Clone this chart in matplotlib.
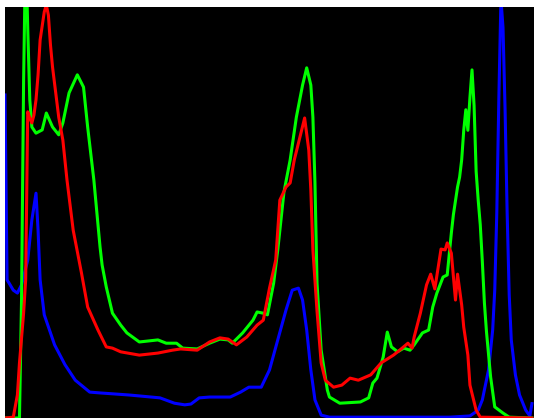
import numpy as np
import matplotlib
matplotlib.use("Agg")
import matplotlib.pyplot as plt

# colour histograms of an image (bins 0-255, % of plot height)
blue_bins = [0, 1, 2, 4, 6, 8, 11, 13, 15, 16, 17, 19, 24, 29, 34, 41, 46, 60, 75, 82,
             87, 90, 94, 99, 109, 114, 118, 124, 128, 132, 136, 139, 142, 144, 146, 148,
             150, 153, 157, 215, 225, 229, 231, 234, 236, 237, 238, 239, 240, 241, 242,
             243, 244, 245, 247, 249, 252, 254, 255]
blue_vals = [78.6, 33.6, 32.8, 31.1, 30.4, 32.4, 38.4, 48.2, 54.7, 45.7, 33.6, 25.1, 17.8,
             13.0, 9.2, 6.3, 6.1, 5.6, 4.9, 3.6, 3.2, 3.4, 4.9, 5.1, 5.1, 6.3, 7.5, 7.5,
             11.7, 19.0, 26.3, 31.1, 31.6, 28.7, 21.4, 11.7, 4.4, 0.7, 0.2, 0.2, 0.5, 1.9,
             4.4, 11.7, 21.4, 31.1, 50.0, 78.0, 102.0, 95.0, 75.0, 50.0, 30.0, 19.0, 10.5,
             5.6, 1.9, 0.5, 3.5]

green_bins = [0, 7, 8, 9, 10, 11, 12, 13, 15, 18, 20, 23, 26, 28, 31, 35, 38, 40, 43, 46,
              47, 49, 52, 56, 59, 65, 74, 78, 83, 86, 93, 99, 104, 108, 110, 115, 120, 122,
              125, 127, 130, 132, 135, 138, 141, 144, 146, 148, 149, 150, 151, 153, 156,
              157, 162, 172, 176, 178, 180, 183, 185, 187, 190, 193, 196, 198, 202, 205,
              207, 209, 212, 214, 216, 217, 219, 220, 221, 222, 223, 224, 225, 226, 227,
              228, 229, 230, 231, 232, 233, 235, 237, 241, 244, 255]
green_vals = [0, 0, 28.7, 82.0, 115.0, 94.9, 77.4, 70.8, 69.3, 70.1, 74.2, 70.8, 68.9, 71.8,
              79.1, 83.5, 80.5, 70.8, 57.9, 41.6, 37.2, 31.9, 25.5, 22.6, 20.7, 18.5, 19.0,
              18.2, 18.2, 17.0, 16.8, 18.2, 19.2, 19.0, 18.2, 20.7, 23.8, 25.8, 25.5, 25.1,
              32.8, 40.9, 55.0, 62.8, 73.2, 81.0, 85.2, 81.0, 73.2, 57.2, 32.8, 16.5, 6.8,
              5.1, 3.6, 3.9, 4.9, 8.5, 9.7, 14.8, 20.9, 17.3, 16.1, 17.0, 16.5, 17.8, 20.7,
              21.4, 27.0, 30.4, 34.3, 34.8, 45.0, 49.5, 56.2, 58.6, 62.8, 70.0, 75.0, 70.0,
              78.0, 84.7, 76.0, 60.0, 53.0, 47.0, 38.0, 28.0, 21.0, 10.0, 2.7, 1.2, 0.2, 0]

red_bins = [0, 4, 6, 7, 9, 10, 11, 12, 13, 14, 15, 16, 17, 19, 20, 21, 22, 23, 26, 28, 30,
            33, 37, 40, 45, 49, 52, 56, 65, 74, 81, 85, 93, 99, 104, 108, 112, 117, 122,
            125, 128, 131, 133, 136, 138, 140, 143, 145, 147, 148, 149, 151, 153, 155, 159,
            163, 167, 171, 177, 182, 188, 191, 195, 197, 198, 201, 204, 206, 208, 211, 213,
            214, 216, 218, 219, 221, 222, 224, 225, 228, 230, 255]
red_vals = [0, 0.2, 5.6, 13.4, 25.5, 33.6, 74.5, 73.0, 71.8, 73.7, 77.4, 83.5, 92.0, 98.8,
            100.5, 98.0, 90.8, 85.4, 73.2, 67.6, 57.9, 45.7, 35.3, 27.0, 21.4, 17.3, 17.0,
            16.1, 15.3, 15.8, 16.5, 16.8, 16.5, 18.5, 19.5, 19.2, 17.8, 19.7, 22.6, 23.8,
            31.6, 38.4, 53.0, 56.2, 57.2, 62.8, 68.9, 73.0, 65.2, 55.5, 40.9, 26.0, 13.4,
            9.2, 7.5, 8.0, 9.7, 9.2, 10.5, 13.4, 15.3, 16.5, 18.2, 17.0, 19.7, 25.5, 32.4,
            35.0, 31.4, 41.1, 40.9, 42.6, 40.1, 28.7, 35.0, 27.5, 22.1, 15.3, 8.0, 1.9, 0.2, 0]

fig = plt.figure(figsize=(5.34, 4.18), dpi=100, facecolor="w")
ax = fig.add_axes([5 / 534, 0, 529 / 534, 411 / 418])
ax.set_facecolor("black")

lw = 2.2
ax.plot(blue_bins, blue_vals, color="#0000ff", linewidth=lw)
ax.plot(green_bins, green_vals, color="#00ff00", linewidth=lw)
ax.plot(red_bins, red_vals, color="#ff0000", linewidth=lw)

ax.set_xlim(0, 256)
ax.set_ylim(0, 100)
ax.set_xticks([])
ax.set_yticks([])
for s in ax.spines.values():
    s.set_visible(False)

fig.savefig("out.png", dpi=100, facecolor="w")
